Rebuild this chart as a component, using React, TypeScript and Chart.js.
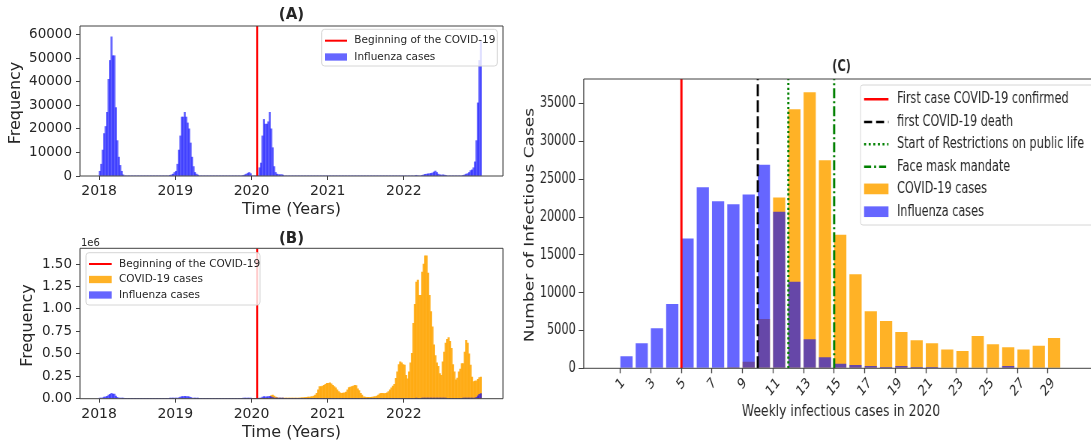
import React, { useEffect, useRef } from "react";
import { Chart, registerables } from "chart.js";

Chart.register(...registerables);

const FONT = '"DejaVu Sans", "Liberation Sans", sans-serif';
const INK = "#262626";
const SPINE = "#404040";
const FLU_FILL = "rgba(0, 0, 255, 0.6)";
const COVID_FILL = "rgba(255, 165, 0, 0.85)";
const C_SQUEEZE = 0.75;

// ---------- Panels (A) and (B): weekly cases per calendar year (index 0 = first week) ----------
const flu2018 = [
  2000, 5000, 11000, 18000, 21000, 27000, 41000, 49000, 59000, 51000, 51000, 29000, 15000,
  8000, 4500, 2000, 500, 0, 0, 0, 0, 0, 0, 0, 0, 0, 0, 0, 0, 0, 0, 0, 0, 0, 0, 0, 0, 0, 0,
  0, 0, 0, 0, 0, 0, 0, 0, 0, 300, 500, 800, 1500,
];
const flu2019 = [
  2000, 5000, 11000, 17000, 25000, 25000, 27000, 25000, 22500, 20000, 14000, 8000, 4000,
  1500, 800, 400, 0, 0, 0, 0, 0, 0, 0, 0, 0, 0, 0, 0, 0, 0, 0, 0, 0, 0, 0, 0, 0, 0, 0, 0,
  0, 0, 0, 0, 0, 0, 300, 500, 800, 1200, 1500, 1000,
];
const flu2020 = [
  0, 0, 0, 0, 0, 3500, 5500, 17000, 24000, 22000, 22000, 23000, 27000, 20000, 12000, 4000,
  1500, 800, 600, 500, 600, 400, 0, 0, 0, 0, 0, 0, 0, 0, 0, 0, 0, 0, 0, 0, 0, 0, 0, 0, 0,
  0, 0, 0, 0, 0, 0, 0, 0, 0, 0, 0,
];
const flu2021 = [
  0, 0, 0, 0, 0, 0, 0, 0, 0, 0, 0, 0, 0, 0, 0, 0, 0, 0, 0, 0, 0, 0, 0, 0, 0, 0, 0, 0, 0, 0,
  0, 0, 0, 0, 0, 0, 0, 0, 0, 0, 0, 0, 0, 0, 0, 0, 0, 0, 0, 0, 0, 0,
];
const flu2022 = [
  0, 0, 0, 0, 0, 0, 0, 0, 300, 0, 0, 0, 300, 500, 700, 800, 900, 1000, 1100, 1300, 1700,
  2100, 1500, 800, 500, 400, 500, 400, 300, 0, 0, 0, 0, 0, 0, 0, 0, 0, 0, 0, 300, 500, 800,
  1000, 1500, 2300, 2600, 3500, 6000, 15000, 31000, 49000, 57000,
];
const covid2020 = [
  0, 0, 0, 0, 0, 0, 0, 0, 0, 0, 0, 0, 5000, 35000, 40000, 30000, 18000, 12000, 8000, 6000,
  5000, 4000, 3500, 3000, 3000, 4000, 3000, 3000, 3000, 3500, 4000, 5000, 7000, 9000, 11000,
  12000, 13000, 15000, 17000, 18000, 20000, 25000, 30000, 40000, 60000, 100000, 134000,
  134000, 140000, 150000, 160000, 170000,
];
const covid2021 = [
  170000, 178000, 165000, 150000, 135000, 120000, 100000, 78000, 65000, 60000, 62000, 65000,
  75000, 100000, 125000, 130000, 135000, 140000, 150000, 145000, 110000, 90000, 60000, 40000,
  22000, 18000, 16000, 15000, 15000, 16000, 18000, 20000, 25000, 30000, 40000, 55000, 60000,
  60000, 58000, 60000, 65000, 80000, 100000, 120000, 140000, 160000, 226000, 300000, 380000,
  412000, 400000, 380000,
];
const covid2022 = [
  375000, 260000, 220000, 300000, 400000, 505000, 840000, 1050000, 1300000, 1320000, 1150000,
  1150000, 1410000, 1500000, 1590000, 1590000, 1400000, 1150000, 970000, 800000, 600000,
  480000, 400000, 360000, 280000, 260000, 410000, 520000, 620000, 660000, 680000, 640000,
  560000, 380000, 300000, 210000, 230000, 300000, 330000, 390000, 390000, 520000, 650000,
  620000, 500000, 375000, 240000, 190000, 195000, 200000, 215000, 234000, 240000,
];

const fluYears = [2018, 2019, 2020, 2021, 2022];
const fluSeasons = [flu2018, flu2019, flu2020, flu2021, flu2022];
const covidYears = [2020, 2021, 2022];
const covidSeasons = [covid2020, covid2021, covid2022];

const yearTicks = [2018, 2019, 2020, 2021, 2022];
const freqTicksA = [0, 10000, 20000, 30000, 40000, 50000, 60000];
const freqTicksB = [0, 250000, 500000, 750000, 1000000, 1250000, 1500000];
const covidOnset = 2020.075;

// ---------- Panel (C): weekly cases in 2020 ----------
const weeks2020 = [
  1, 2, 3, 4, 5, 6, 7, 8, 9, 10, 11, 12, 13, 14, 15, 16, 17, 18, 19, 20, 21, 22, 23, 24, 25,
  26, 27, 28, 29,
];
const covidWeekly2020 = [
  0, 0, 0, 0, 0, 0, 0, 150, 880, 6520, 22590, 34250, 36500, 27520, 17650, 12420, 7530, 6250,
  4800, 3700, 3300, 2470, 2290, 4270, 3170, 2770, 2470, 2990, 4000,
];
const fluWeekly2020 = [
  1600, 3300, 5280, 8500, 17170, 23950, 22100, 21700, 22980, 26900, 20700, 11450, 3830, 1450,
  600, 440, 300, 170, 300, 170, 170, 0, 0, 0, 0, 300, 0, 0, 0,
];
const weekTicks = [1, 3, 5, 7, 9, 11, 13, 15, 17, 19, 21, 23, 25, 27, 29];
const casesTicks = [0, 5000, 10000, 15000, 20000, 25000, 30000, 35000];
const firstCaseWeek = 5;
const firstDeathWeek = 10;
const restrictionsWeek = 12;
const maskMandateWeek = 15;

// ---------- helpers ----------
type Area = { left: number; top: number; right: number; bottom: number; width: number; height: number };
type LegendEntry = { label: string; color: string; kind: "line" | "patch"; dash?: number[] };

function weeklyPoints(years: number[], seasons: number[][]) {
  const pts: { x: number; y: number }[] = [];
  years.forEach((yr, k) =>
    seasons[k].forEach((v, i) => pts.push({ x: yr + (i + 0.5) / 52, y: v }))
  );
  return pts;
}

function text(
  ctx: CanvasRenderingContext2D,
  str: string,
  x: number,
  y: number,
  font: string,
  align: CanvasTextAlign = "center",
  rot = 0,
  color = INK
) {
  ctx.save();
  ctx.font = font;
  ctx.fillStyle = color;
  ctx.textAlign = align;
  ctx.textBaseline = "middle";
  ctx.translate(x, y);
  if (rot) ctx.rotate(rot);
  ctx.fillText(str, 0, 0);
  ctx.restore();
}

function vline(chart: any, value: number, color: string, width: number, dash: number[]) {
  const { ctx, chartArea: a, scales } = chart;
  const x = scales.x.getPixelForValue(value);
  ctx.save();
  ctx.beginPath();
  ctx.rect(a.left, a.top, a.right - a.left, a.bottom - a.top);
  ctx.clip();
  ctx.strokeStyle = color;
  ctx.lineWidth = width;
  ctx.setLineDash(dash);
  ctx.beginPath();
  ctx.moveTo(x, a.bottom);
  ctx.lineTo(x, a.top);
  ctx.stroke();
  ctx.restore();
}

function legend(
  ctx: CanvasRenderingContext2D,
  frame: { x: number; y: number; w: number; h: number },
  rows: number[],
  entries: LegendEntry[],
  sample: { x0: number; x1: number; patchH: number; lineW: number },
  textX: number,
  font: string
) {
  ctx.save();
  ctx.fillStyle = "rgba(255,255,255,0.8)";
  ctx.strokeStyle = "#d6d6d6";
  ctx.lineWidth = 1;
  ctx.beginPath();
  ctx.roundRect(frame.x, frame.y, frame.w, frame.h, 3);
  ctx.fill();
  ctx.stroke();
  entries.forEach((e, i) => {
    const y = rows[i];
    if (e.kind === "line") {
      ctx.strokeStyle = e.color;
      ctx.lineWidth = sample.lineW;
      ctx.setLineDash(e.dash || []);
      ctx.beginPath();
      ctx.moveTo(sample.x0, y);
      ctx.lineTo(sample.x1, y);
      ctx.stroke();
      ctx.setLineDash([]);
    } else {
      ctx.fillStyle = e.color;
      ctx.fillRect(sample.x0, y - sample.patchH / 2, sample.x1 - sample.x0, sample.patchH);
    }
    text(ctx, e.label, textX, y, font, "left");
  });
  ctx.restore();
}

function axisScale(
  min: number,
  max: number,
  tickValues: number[],
  fit: (s: any) => void,
  tickLength: number,
  tickWidth: number
) {
  return {
    type: "linear",
    min,
    max,
    offset: false,
    grid: {
      display: true,
      drawOnChartArea: false,
      drawTicks: true,
      tickLength,
      tickWidth,
      tickColor: SPINE,
      color: SPINE,
      offset: false,
    },
    border: { display: false },
    ticks: { display: false },
    afterBuildTicks: (s: any) => {
      s.ticks = tickValues.map((value) => ({ value }));
    },
    afterFit: fit,
  };
}

function baseOptions(area: Area, scales: any) {
  return {
    responsive: false,
    animation: false,
    devicePixelRatio: 1,
    events: [],
    layout: { padding: { left: 0, top: area.top, right: area.width - area.right, bottom: 0 } },
    plugins: { legend: { display: false }, tooltip: { enabled: false }, title: { display: false } },
    scales,
  };
}

function frame(ctx: CanvasRenderingContext2D, a: any, sideWidth = 1) {
  ctx.save();
  ctx.strokeStyle = SPINE;
  ctx.lineWidth = 1;
  ctx.beginPath();
  ctx.moveTo(a.left, a.top);
  ctx.lineTo(a.right, a.top);
  ctx.moveTo(a.left, a.bottom);
  ctx.lineTo(a.right, a.bottom);
  ctx.stroke();
  ctx.lineWidth = sideWidth;
  ctx.beginPath();
  ctx.moveTo(a.left, a.top);
  ctx.lineTo(a.left, a.bottom);
  ctx.moveTo(a.right, a.top);
  ctx.lineTo(a.right, a.bottom);
  ctx.stroke();
  ctx.restore();
}

const barStyle = {
  barPercentage: 1,
  categoryPercentage: 1,
  grouped: false,
  borderWidth: 0,
};

// ---------- panel (A) ----------
function configA() {
  const area: Area = { left: 80, top: 26, right: 503, bottom: 176, width: 520, height: 222 };
  const scales = {
    x: axisScale(2017.75, 2023.3, yearTicks, (s) => (s.height = area.height - area.bottom), 4, 1),
    y: axisScale(0, 63600, freqTicksA, (s) => (s.width = area.left), 4, 1),
  };
  return {
    type: "bar",
    data: {
      datasets: [
        { label: "Influenza cases", data: weeklyPoints(fluYears, fluSeasons), backgroundColor: FLU_FILL, ...barStyle },
      ],
    },
    options: baseOptions(area, scales),
    plugins: [
      {
        id: "panelA",
        afterDatasetsDraw(chart: any) {
          vline(chart, covidOnset, "#ff0000", 2, []);
        },
        afterDraw(chart: any) {
          const { ctx, chartArea: a, scales: sc } = chart;
          frame(ctx, a);
          const tf = `13.5px ${FONT}`;
          freqTicksA.forEach((v) => text(ctx, String(v), a.left - 8, sc.y.getPixelForValue(v), tf, "right"));
          yearTicks.forEach((v) => text(ctx, String(v), sc.x.getPixelForValue(v), 191, `14px ${FONT}`));
          text(ctx, "(A)", (a.left + a.right) / 2, 15, `bold 15px ${FONT}`);
          text(ctx, "Time (Years)", (a.left + a.right) / 2, 209.5, `16px ${FONT}`);
          text(ctx, "Frequency", 15.5, 103, `16px ${FONT}`, "center", -Math.PI / 2);
          legend(
            ctx,
            { x: 321.7, y: 29.3, w: 175.6, h: 36.7 },
            [40.7, 57],
            [
              { label: "Beginning of the COVID-19", color: "#ff0000", kind: "line" },
              { label: "Influenza cases", color: FLU_FILL, kind: "patch" },
            ],
            { x0: 325, x1: 347, patchH: 7.3, lineW: 2 },
            354.3,
            `10.5px ${FONT}`
          );
        },
      },
    ],
  };
}

// ---------- panel (B) ----------
function configB() {
  const area: Area = { left: 80, top: 33.3, right: 503, bottom: 183.7, width: 520, height: 228 };
  const scales = {
    x: axisScale(2017.75, 2023.3, yearTicks, (s) => (s.height = area.height - area.bottom), 4, 1),
    y: axisScale(0, 1675000, freqTicksB, (s) => (s.width = area.left), 4, 1),
  };
  return {
    type: "bar",
    data: {
      datasets: [
        { label: "Influenza cases", data: weeklyPoints(fluYears, fluSeasons), backgroundColor: FLU_FILL, ...barStyle },
        { label: "COVID-19 cases", data: weeklyPoints(covidYears, covidSeasons), backgroundColor: COVID_FILL, ...barStyle },
      ],
    },
    options: baseOptions(area, scales),
    plugins: [
      {
        id: "panelB",
        afterDatasetsDraw(chart: any) {
          vline(chart, covidOnset, "#ff0000", 2, []);
        },
        afterDraw(chart: any) {
          const { ctx, chartArea: a, scales: sc } = chart;
          frame(ctx, a);
          const tf = `13.5px ${FONT}`;
          freqTicksB.forEach((v) =>
            text(ctx, (v / 1e6).toFixed(2), a.left - 8, sc.y.getPixelForValue(v), tf, "right")
          );
          yearTicks.forEach((v) => text(ctx, String(v), sc.x.getPixelForValue(v), 199, `14px ${FONT}`));
          text(ctx, "1e6", a.left + 1, 28.5, `10px ${FONT}`, "left");
          text(ctx, "(B)", (a.left + a.right) / 2, 24, `bold 15px ${FONT}`);
          text(ctx, "Time (Years)", (a.left + a.right) / 2, 217.5, `16px ${FONT}`);
          text(ctx, "Frequency", 28, 110.5, `16px ${FONT}`, "center", -Math.PI / 2);
          legend(
            ctx,
            { x: 86, y: 37.7, w: 174, h: 52.3 },
            [49, 64.5, 80],
            [
              { label: "Beginning of the COVID-19", color: "#ff0000", kind: "line" },
              { label: "COVID-19 cases", color: COVID_FILL, kind: "patch" },
              { label: "Influenza cases", color: FLU_FILL, kind: "patch" },
            ],
            { x0: 89, x1: 111.7, patchH: 7.3, lineW: 2 },
            119,
            `10.5px ${FONT}`
          );
        },
      },
    ],
  };
}

// ---------- panel (C), drawn wide and squeezed horizontally by CSS ----------
function configC() {
  const area: Area = { left: 84.9, top: 29, right: 775.2, bottom: 318.3, width: 800, height: 393 };
  const k = 1 / C_SQUEEZE;
  const scales = {
    x: axisScale(-1.4, 32.5, weekTicks, (s) => (s.height = area.height - area.bottom), 5, 1.3),
    y: axisScale(0, 38250, casesTicks, (s) => (s.width = area.left), 5 * k, 1),
  };
  const points = (vals: number[]) => weeks2020.map((w, i) => ({ x: w + 0.4, y: vals[i] }));
  const cBar = { ...barStyle, barPercentage: 0.8 };
  return {
    type: "bar",
    data: {
      datasets: [
        { label: "Influenza cases", data: points(fluWeekly2020), backgroundColor: FLU_FILL, ...cBar },
        { label: "COVID-19 cases", data: points(covidWeekly2020), backgroundColor: COVID_FILL, ...cBar },
      ],
    },
    options: baseOptions(area, scales),
    plugins: [
      {
        id: "panelC",
        afterDatasetsDraw(chart: any) {
          const lw = 2.2 * k;
          vline(chart, firstCaseWeek, "#ff0000", lw, []);
          vline(chart, firstDeathWeek, "#000000", lw, [12, 4]);
          vline(chart, restrictionsWeek, "#008000", lw, [2.2, 2.6]);
          vline(chart, maskMandateWeek, "#008000", lw, [10, 3, 2, 3]);
        },
        afterDraw(chart: any) {
          const { ctx, chartArea: a, scales: sc } = chart;
          frame(ctx, a, 1.3);
          const yf = `15px ${FONT}`;
          casesTicks.forEach((v) => text(ctx, String(v), a.left - 8 * k, sc.y.getPixelForValue(v), yf, "right"));
          const fs = 15;
          const xf = `${fs}px ${FONT}`;
          ctx.save();
          ctx.font = xf;
          weekTicks.forEach((v) => {
            const w = ctx.measureText(String(v)).width;
            const cy = a.bottom + 8.5 + (w + 0.75 * fs) / (2 * Math.SQRT2);
            text(ctx, String(v), sc.x.getPixelForValue(v), cy, xf, "center", -Math.PI / 4);
          });
          ctx.restore();
          text(ctx, "(C)", 428.7, 17.5, `bold 15px ${FONT}`);
          text(ctx, "Weekly infectious cases in 2020", 428, 361.5, `16.5px ${FONT}`);
          text(ctx, "Number of Infectious Cases", 13.3, 175, `17px ${FONT}`, "center", -Math.PI / 2);
          legend(
            ctx,
            { x: 454, y: 35, w: 400, h: 140 },
            [49.3, 72, 94.2, 116.7, 138.9, 161.7],
            [
              { label: "First case COVID-19 confirmed", color: "#ff0000", kind: "line" },
              { label: "first COVID-19 death", color: "#000000", kind: "line", dash: [8 * k, 4 * k] },
              { label: "Start of Restrictions on public life", color: "#008000", kind: "line", dash: [2 * k, 2.6 * k] },
              { label: "Face mask mandate", color: "#008000", kind: "line", dash: [7 * k, 3 * k, 2 * k, 3 * k] },
              { label: "COVID-19 cases", color: COVID_FILL, kind: "patch" },
              { label: "Influenza cases", color: FLU_FILL, kind: "patch" },
            ],
            { x0: 458.8, x1: 491.3, patchH: 10.7, lineW: 2.4 },
            502.7,
            `15px ${FONT}`
          );
        },
      },
    ],
  };
}

function Panel({ build, width, height }: { build: () => any; width: number; height: number }) {
  const ref = useRef<HTMLCanvasElement | null>(null);
  useEffect(() => {
    if (!ref.current) return;
    const chart = new Chart(ref.current, build());
    return () => chart.destroy();
  }, [build]);
  return <canvas ref={ref} width={width} height={height} style={{ display: "block" }} />;
}

export default function App() {
  return (
    <div
      style={{
        position: "fixed",
        left: 0,
        top: 0,
        width: 1091,
        height: 443,
        overflow: "hidden",
        background: "#ffffff",
      }}
    >
      <div style={{ position: "absolute", left: 0, top: 0 }}>
        <Panel build={configA} width={520} height={222} />
      </div>
      <div style={{ position: "absolute", left: 0, top: 215 }}>
        <Panel build={configB} width={520} height={228} />
      </div>
      <div
        style={{
          position: "absolute",
          left: 520,
          top: 50,
          transform: `scaleX(${C_SQUEEZE})`,
          transformOrigin: "0 0",
        }}
      >
        <Panel build={configC} width={800} height={393} />
      </div>
    </div>
  );
}
